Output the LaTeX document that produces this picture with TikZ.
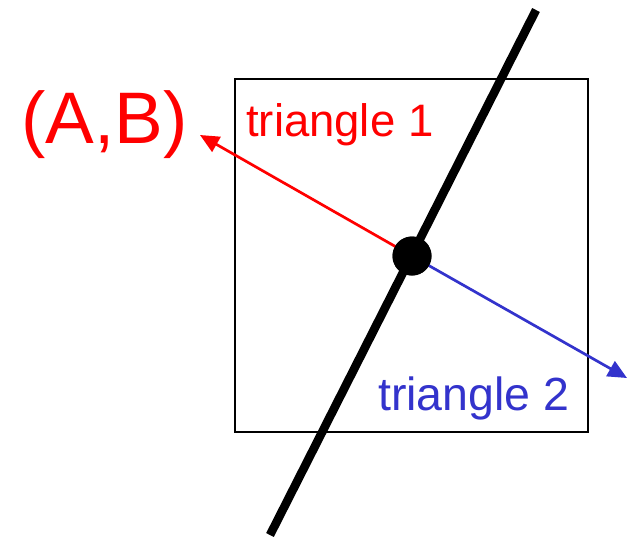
\documentclass[tikz,border=0pt]{standalone}
\usepackage{fontspec}
\setmainfont{Liberation Sans}
\usetikzlibrary{arrows.meta}
\definecolor{tblue}{RGB}{51,51,204}
\begin{document}
\begin{tikzpicture}[x=1pt,y=-1pt,
  lbl/.style={inner sep=0pt,anchor=base west},
  arr/.style={line width=2.7pt,-{Triangle[length=19pt,width=17pt]}}]
\useasboundingbox (0,0) rectangle (634,539);
\draw[line width=2pt] (235,79) rectangle (588,432);
\coordinate (top) at (536,10);
\coordinate (bot) at (270,535);
\draw[line width=8.6pt] (top) -- (bot);
\coordinate (tipA) at (200,135);
\coordinate (tipB) at (627,378);
\node[circle,fill=black,minimum size=39pt,inner sep=0pt] (dot) at (412,256) {};
\draw[arr,red] (dot.center) -- (tipA);
\draw[arr,tblue] (dot.center) -- (tipB);
\fill (dot.center) circle (19.5pt);
\node[lbl,red,font=\fontsize{73}{73}\selectfont] (ab) at (21,143) {(A,B)};
\node[lbl,red,font=\fontsize{45.5}{46}\selectfont] (t1) at (246,136) {triangle 1};
\node[lbl,tblue,font=\fontsize{46.5}{47}\selectfont] (t2) at (378,410) {triangle 2};
\end{tikzpicture}
\end{document}
